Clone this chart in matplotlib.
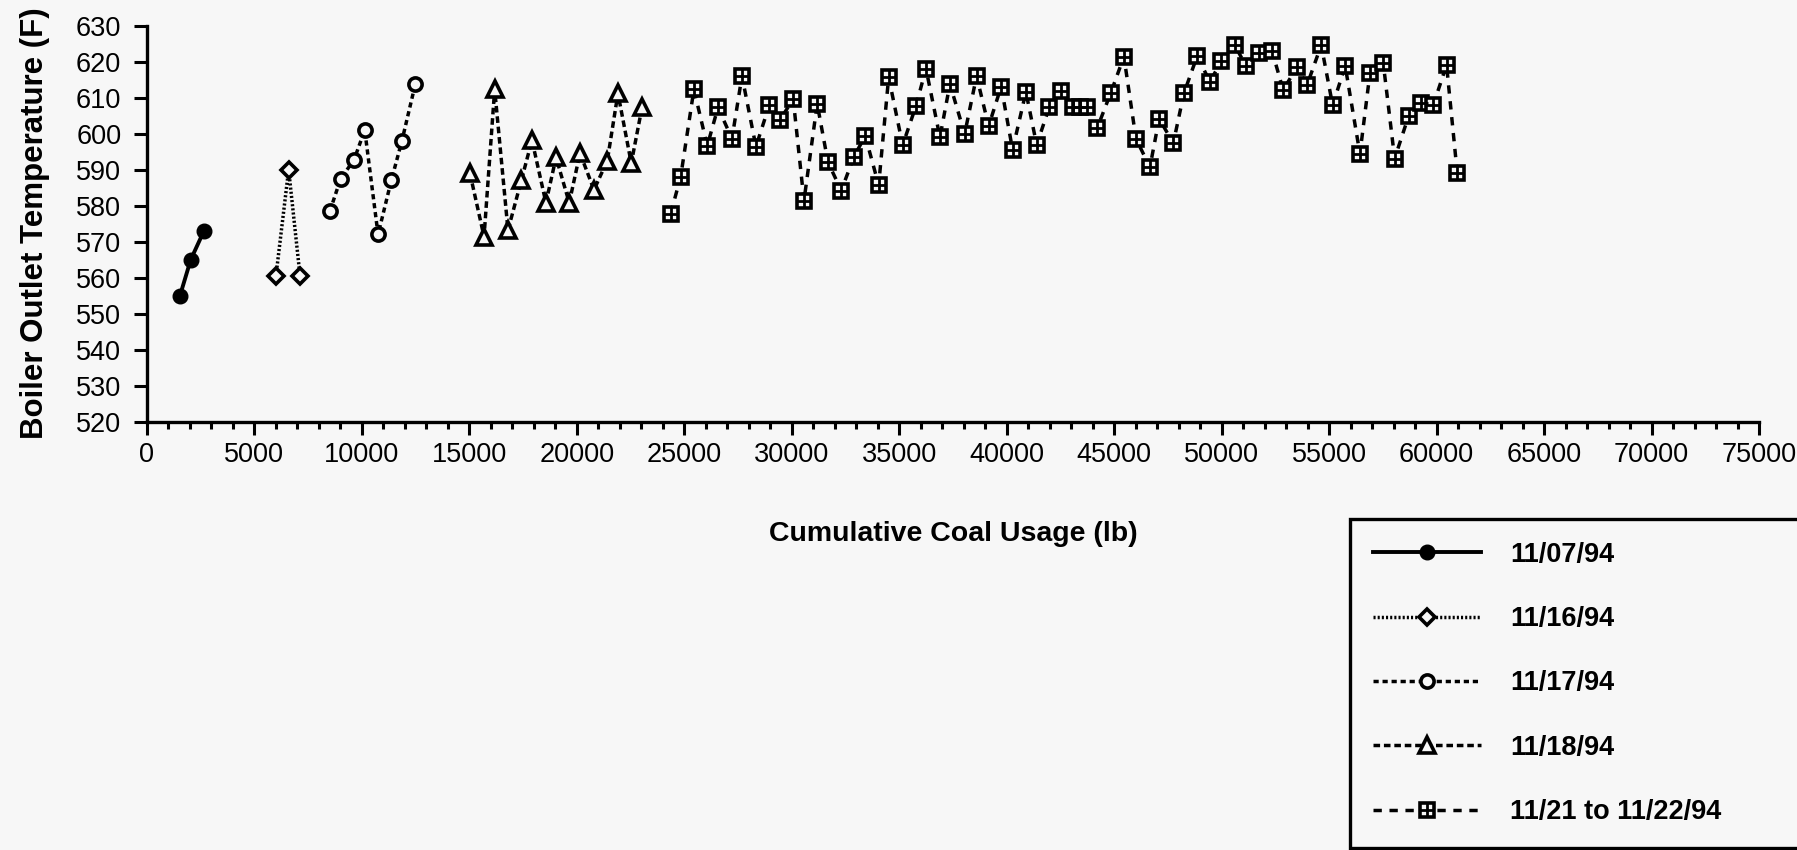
import numpy as np
import matplotlib
matplotlib.use("Agg")
import matplotlib.pyplot as plt

# --- Data ---
# 11/07/94
x_1107 = [1535, 2035, 2650]
y_1107 = [555, 565, 573]

# 11/16/94
x_1116 = [6000, 6590, 7120]
y_1116 = [560.5, 590, 560.5]

# 11/17/94
x_1117 = [8510, 9010, 9630, 10130, 10750, 11365, 11860, 12480]
y_1117 = [578.5, 587.5, 592.7, 601, 572, 587, 598, 613.7]

# 11/18/94
x_1118 = [15025, 15680, 16175, 16795, 17415, 17910, 18560, 19030, 19645,
          20145, 20795, 21415, 21910, 22530, 23030]
y_1118 = [589, 571.4, 612.3, 573.2, 587, 598.2, 580.8, 593.4, 580.8,
          594.6, 584.4, 592.5, 611.2, 591.8, 607.3]

# 11/21 to 11/22/94
x_1121 = [24360, 24830, 25445, 26065, 26565, 27215, 27680, 28330, 28950,
          29445, 30065, 30565, 31180, 31680, 32300, 32890, 33415, 34040,
          34505, 35155, 35775, 36240, 36890, 37355, 38040, 38595, 39155,
          39740, 40270, 40890, 41390, 41975, 42535, 43065, 43405, 43745,
          44210, 44830, 45450, 46010, 46660, 47090, 47745, 48240, 48860,
          49450, 49975, 50600, 51125, 51745, 52335, 52860, 53485, 53975,
          54630, 55160, 55745, 56430, 56895, 57515, 58045, 58695, 59280,
          59840, 60460, 60955]
y_1121 = [577.7, 588.1, 612.3, 596.6, 607.3, 598.6, 616, 596.4, 607.9,
          603.8, 609.6, 581.4, 608.3, 592.1, 584.2, 593.6, 599.4, 585.7,
          615.7, 596.8, 607.7, 618.1, 599, 613.8, 599.9, 616, 602.1,
          613.1, 595.5, 611.6, 596.9, 607.3, 611.8, 607.3, 607.3, 607.3,
          601.6, 611.2, 621.4, 598.6, 590.7, 604.2, 597.3, 611.2, 621.6,
          614.4, 620.1, 624.7, 618.8, 622.5, 623.1, 612.1, 618.4, 613.6,
          624.6, 607.9, 618.8, 594.4, 616.8, 619.6, 593.1, 604.9, 608.6,
          607.9, 619.1, 589.2]

labels = ["11/07/94", "11/16/94", "11/17/94", "11/18/94", "11/21 to 11/22/94"]
x_ticks = list(range(0, 75001, 5000))
y_ticks = list(range(520, 631, 10))

BG = "#f7f7f7"
plt.rcParams["font.family"] = ["Liberation Sans", "DejaVu Sans"]

fig = plt.figure(figsize=(17.97, 8.5), dpi=100, facecolor=BG)
ax = fig.add_axes([0.0818, 0.5039, 0.8971, 0.4659], facecolor=BG)

lw = 2.5
l1, = ax.plot(x_1107, y_1107, color="black", lw=2.8, ls="-",
              marker="o", ms=10.5, mfc="black", mec="black")
l2, = ax.plot(x_1116, y_1116, color="black", lw=lw, ls=(0, (0.6, 0.6)),
              marker="D", ms=8, mfc=BG, mec="black", mew=2.6)
l3, = ax.plot(x_1117, y_1117, color="black", lw=lw, ls=(0, (1.5, 1.1)),
              marker="o", ms=9.5, mfc=BG, mec="black", mew=2.6)
l4, = ax.plot(x_1118, y_1118, color="black", lw=lw, ls=(0, (1.9, 1.1)),
              marker="^", ms=11, mfc=BG, mec="black", mew=2.6)
l5, = ax.plot(x_1121, y_1121, color="black", lw=lw, ls=(0, (2.4, 2.2)),
              marker="s", ms=10, mfc=BG, mec="black", mew=2.6)
l5p, = ax.plot(x_1121, y_1121, ls="none", marker="+", ms=10,
               mec="black", mew=2.0)

ax.set_xlim(0, 75000)
ax.set_ylim(520, 630)
ax.set_xticks(x_ticks)
ax.set_xticklabels([str(v) for v in x_ticks])
ax.set_xticks(list(range(0, 75001, 1000)), minor=True)
ax.set_yticks(y_ticks)
ax.set_yticklabels([str(v) for v in y_ticks])

for side in ["top", "right"]:
    ax.spines[side].set_visible(False)
for side in ["left", "bottom"]:
    ax.spines[side].set_linewidth(2.4)

ax.tick_params(axis="both", which="major", direction="out", length=9.5,
               width=2.2, labelsize=19.5, pad=5)
ax.tick_params(axis="y", which="major", pad=9)
ax.tick_params(axis="x", which="minor", direction="out", length=5, width=2.2)
ax.tick_params(axis="y", which="minor", left=False)

ax.set_xlabel("Cumulative Coal Usage (lb)", fontsize=20.5, fontweight="bold",
              labelpad=38)
ax.set_ylabel("Boiler Outlet Temperature (F)", fontsize=22.5, fontweight="bold",
              labelpad=19)

leg = fig.legend([l1, l2, l3, l4, (l5, l5p)], labels,
                 loc="upper left", bbox_to_anchor=(0.7513, 0.0, 0.3, 0.39),
                 mode="expand", frameon=True, fancybox=False,
                 prop={"size": 19.5, "weight": "bold"}, handlelength=4.0,
                 handletextpad=1.05, borderpad=0.85, labelspacing=1.42,
                 borderaxespad=0.0)
leg.get_frame().set_edgecolor("black")
leg.get_frame().set_linewidth(2.4)
leg.get_frame().set_facecolor(BG)
leg.get_frame().set_alpha(1)

fig.savefig("out.png", dpi=100, facecolor=BG)
